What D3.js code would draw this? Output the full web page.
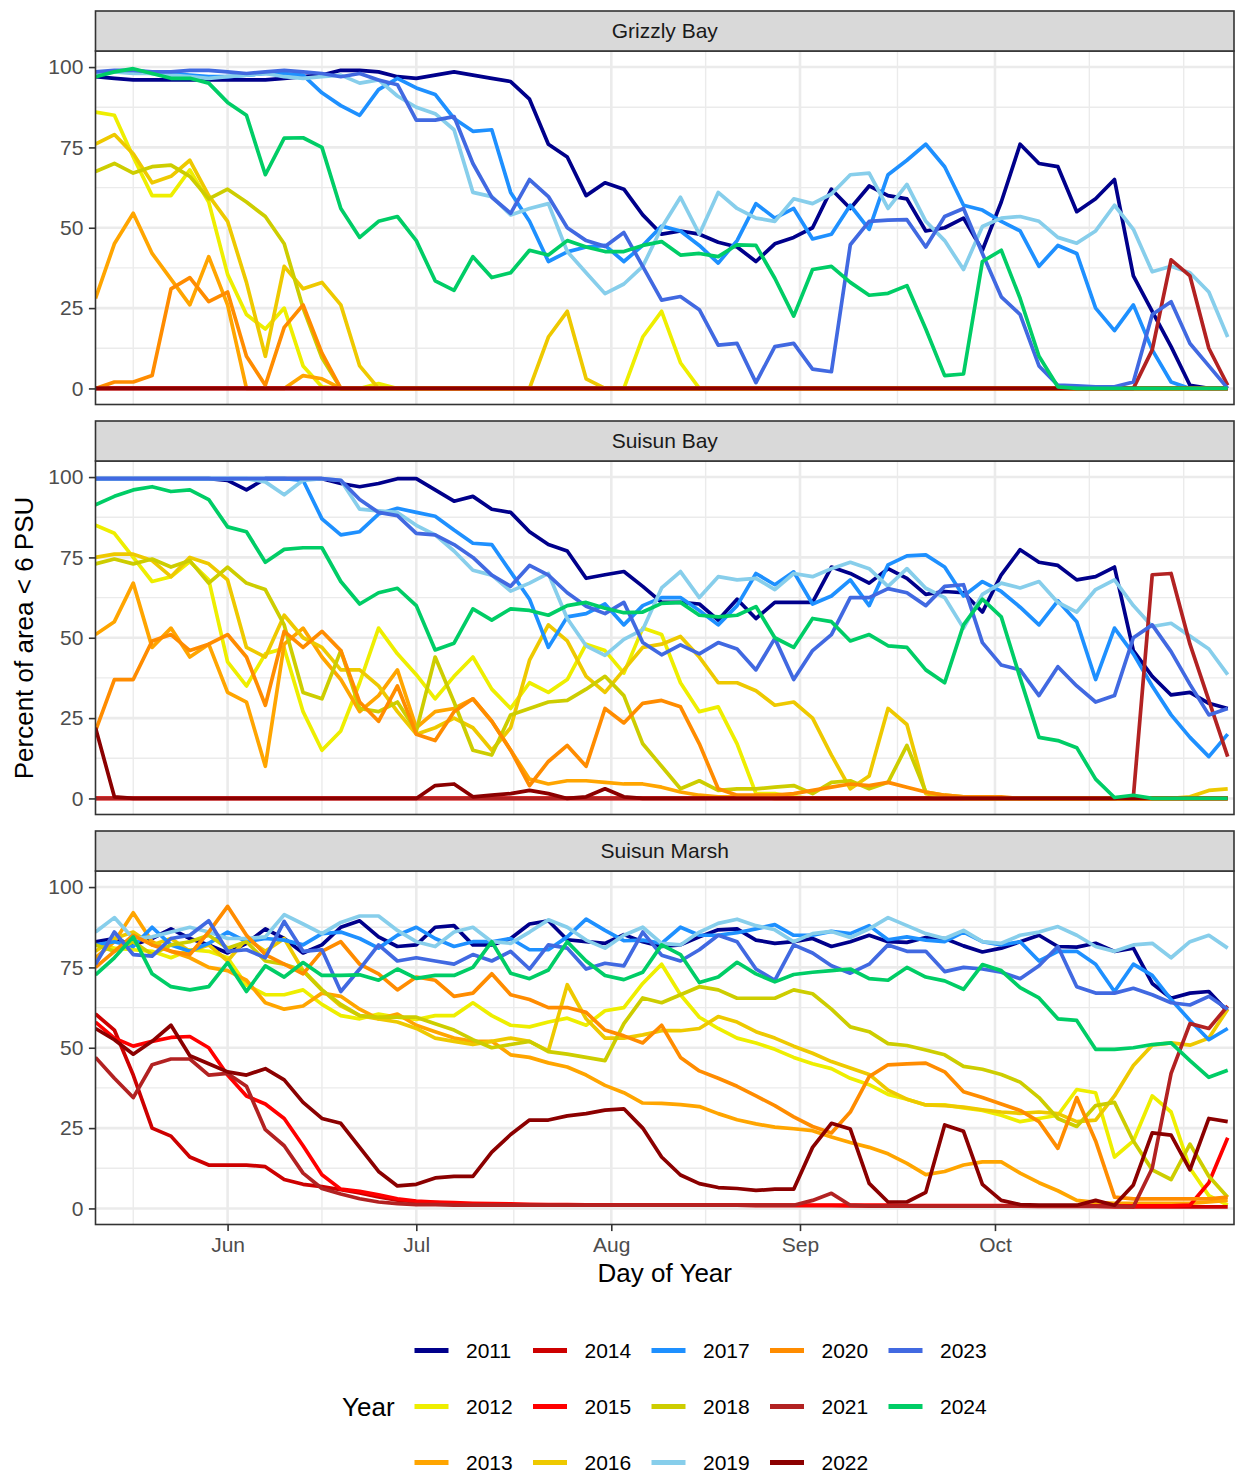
<!DOCTYPE html>
<html>
<head>
<meta charset="utf-8">
<script src="https://cdn.jsdelivr.net/npm/d3@7"></script>
<style>
  html, body { margin: 0; padding: 0; background: #ffffff; }
  svg { display: block; }
  text { font-family: "Liberation Sans", Arial, Helvetica, sans-serif; }
</style>
</head>
<body>
<svg id="chart" width="1238" height="1473"></svg>
<script>
// ---- categories -------------------------------------------------------
const years  = [2011, 2012, 2013, 2014, 2015, 2016, 2017, 2018, 2019, 2020, 2021, 2022, 2023, 2024];
const yearColors = ["#00008B", "#EEEE00", "#FFA500", "#CD0000", "#FF0000", "#EEC900", "#1E90FF",
                    "#CDCD00", "#87CEEB", "#FF8C00", "#B22222", "#8B0000", "#4169E1", "#00CD66"];
const sites = ["Grizzly Bay", "Suisun Bay", "Suisun Marsh"];

// day-of-year of the first observation and spacing between observations
const firstDay = 131;
const stepDays = 3;
const xLimits = [131, 312];

// axis ticks
const monthTicks  = [152, 182, 213, 243, 274];
const monthLabels = ["Jun", "Jul", "Aug", "Sep", "Oct"];
const pctTicks    = [0, 25, 50, 75, 100];

// ---- Grizzly Bay: percent of area < 6 PSU ------------------------------
const gb2011 = [97,96.5,96,96,96,96,96,96,96,96, 96.5,97,97.5,99,99,98.5,97,96.5,97.5,98.5, 97.5,96.5,95.5,90,76,72,60,64,62,54, 48,49,48,45.5,44,39.5,45,47,50,62, 56,63,60,59,49,50,53,43,58,76, 70,69,55,59,65,35,24,13,1,0, 0];
const gb2012 = [86,85,72,60,60,68,58,35.5,23,18.5, 25,7,0.5,0,0,1.5,0,0,0,0, 0,0,0,0,0,0,0,0,0,16, 24,8,0,0,0,0,0,0,0,0, 0,0,0,0,0,0,0,0,0,0, 0,0,0,0,0,0,0,0,0,0, 0];
const gb2013 = [28,45,54.5,42,34,26,41,26,0,0, 0,4,3,0,0,0,0,0,0,0, 0,0,0,0,0,0,0,0,0,0, 0,0,0,0,0,0,0,0,0,0, 0,0,0,0,0,0,0,0,0,0, 0,0,0,0,0,0,0,0,0,0, 0];
const gb2014 = [0,0,0,0,0,0,0,0,0,0, 0,0,0,0,0,0,0,0,0,0, 0,0,0,0,0,0,0,0,0,0, 0,0,0,0,0,0,0,0,0,0, 0,0,0,0,0,0,0,0,0,0, 0,0,0,0,0,0,0,0,0,0, 0];
const gb2015 = [0,0,0,0,0,0,0,0,0,0, 0,0,0,0,0,0,0,0,0,0, 0,0,0,0,0,0,0,0,0,0, 0,0,0,0,0,0,0,0,0,0, 0,0,0,0,0,0,0,0,0,0, 0,0,0,0,0,0,0,0,0,0, 0];
const gb2016 = [76,79,73,64,66,71,60,52,33,10, 38,31,33,26,7,0,0,0,0,0, 0,0,0,0,16,24,3,0,0,0, 0,0,0,0,0,0,0,0,0,0, 0,0,0,0,0,0,0,0,0,0, 0,0,0,0,0,0,0,0,0,0, 0];
const gb2017 = [98,98.5,98.5,98,98,97.5,97,97,97.5,98, 98,97.5,92,88,85,93,96.5,93.5,91.5,84, 80,80.5,61,52,39.5,42.5,44,44.5,39.5,44.5, 50.5,49,44.5,39,46,57.5,53,56,46.5,48, 57,49.5,66.5,71,76,69,57,55.5,52,49, 38,44.5,42,25,18,26,12,2,0,0, 0];
const gb2018 = [67.5,70,67,69,69.5,66,59,62,58,53.5, 45,25,9.5,0,0,0,0,0,0,0, 0,0,0,0,0,0,0,0,0,0, 0,0,0,0,0,0,0,0,0,0, 0,0,0,0,0,0,0,0,0,0, 0,0,0,0,0,0,0,0,0,0, 0];
const gb2019 = [98,98.5,98,98,97.5,97,96.5,97,97.5,98, 97,96.5,97,97.5,95,96,91,87.5,85.5,80.5, 61,59.7,54,56,57.5,42.6,36,29.5,32.5,38, 50,59.5,48,61,56,53,52,59,57.5,60.5, 66.5,67,56,63.5,52,46,37,50.4,53,53.5, 52,47,45.2,49,57,49.5,36.3,38,36,30, 16];
const gb2020 = [0,2,2,4,31,34.5,27,30,10,1, 19,26,11,0,0,0,0,0,0,0, 0,0,0,0,0,0,0,0,0,0, 0,0,0,0,0,0,0,0,0,0, 0,0,0,0,0,0,0,0,0,0, 0,0,0,0,0,0,0,0,0,0, 0];
const gb2021 = [0,0,0,0,0,0,0,0,0,0, 0,0,0,0,0,0,0,0,0,0, 0,0,0,0,0,0,0,0,0,0, 0,0,0,0,0,0,0,0,0,0, 0,0,0,0,0,0,0,0,0,0, 0,0,0,0,0,0,12,40,35,12.5, 1];
const gb2022 = [0,0,0,0,0,0,0,0,0,0, 0,0,0,0,0,0,0,0,0,0, 0,0,0,0,0,0,0,0,0,0, 0,0,0,0,0,0,0,0,0,0, 0,0,0,0,0,0,0,0,0,0, 0,0,0,0,0,0,0,0,0,0, 0];
const gb2023 = [98.5,99,99,98.5,98.5,99,99,98.5,98,98.5, 99,98.5,98,97,98,96,94.5,83.5,83.5,84.6, 70,59.5,54.5,65,59.7,50,46,44.2,48.5,38, 27.5,28.6,24.5,13.5,14,1.8,13,14,6,5.2, 44.7,52,52.4,52.5,44,53.5,56,42,28.5,23, 7,1,0.8,0.5,0.5,2,23,27,14,7, 0];
const gb2024 = [97,98.5,99.5,98,96.5,96.5,95,89,85,66.5, 77.9,78,75,56,47,52,53.5,46,33.5,30.5, 41,34.5,36,43,41.5,46,44,42.6,42.6,44.5, 45.7,41.5,42,41,44.7,44.5,34.3,22.5,37,38, 33,29,29.6,32,18.5,4,4.5,39.5,43,28, 10,0.5,0,0,0,0,0,0,0,0, 0];

// ---- Suisun Bay ----------------------------------------------------------
const sb2011 = [99.5,99.5,99.5,99.5,99.5,99.5,99.5,99,96,99.5, 99.5,99.5,99.5,98,97,98,99.5,99.5,96,92.5, 94,90,89,83,79,77,68.5,69.6,70.6,66, 61,61,60.5,55.5,62,56,61,61,61,72, 70,67,71.5,68.5,63.5,64.4,64,58,69.6,77.4, 73.5,72.5,68,69,72,46,38,32.2,33,29.6, 28];
const sb2012 = [85,82.5,75,67.5,69,73.7,68,42.5,35,45, 46.7,27,15,21,36,53,45,38.5,31,38, 44,34,28,36,33,37,48,46,39,53, 51,36,27,28.5,17,1.5,1.5,0.5,0,0, 0,0,0,0,0,0,0,0,0,0, 0,0,0,0,0,0,0,0,0,0, 0];
const sb2013 = [51,55,67,47,53,44,48,33,30,10, 48,53,44,37,27,32,40,22,27,28, 31,24,15,6,4.5,5.5,5.5,5,4.5,4.5, 3.5,2,1,0.5,0.5,0.5,0,0,0,0, 0,0,0,0,0,0,0,0,0,0, 0,0,0,0,0,0,0,0,0,0, 0];
const sb2014 = [0,0,0,0,0,0,0,0,0,0, 0,0,0,0,0,0,0,0,0,0, 0,0,0,0,0,0,0,0,0,0, 0,0,0,0,0,0,0,0,0,0, 0,0,0,0,0,0,0,0,0,0, 0,0,0,0,0,0,0,0,0,0, 0];
const sb2015 = [0,0,0,0,0,0,0,0,0,0, 0,0,0,0,0,0,0,0,0,0, 0,0,0,0,0,0,0,0,0,0, 0,0,0,0,0,0,0,0,0,0, 0,0,0,0,0,0,0,0,0,0, 0,0,0,0,0,0,0,0,0,0, 0];
const sb2016 = [75,76,76,74,69,75,73,68,47,44, 57,50,47,40,40,35,27,20,22,25, 22,15,22,43,54,49,38,33,40,47, 48,50.4,44,36,36,33.5,29,30,25,13.5, 3,7,28,23,1.5,0.5,0,0,0,0, 0,0,0,0,0,0,0,0,0.5,2.5, 3];
const sb2017 = [99.5,99.5,99.5,99.5,99.5,99.5,99.5,99.5,99.5,99.5, 99.5,99,87,82,83,88.5,90.3,89,87.8,83.5, 79.4,79,70.5,62,47,56.5,57.5,60.5,54,60, 62.5,62.5,58.5,54,60,70,66.5,70.5,60.5,63, 68,60,72.7,75.5,75.8,72,63,67.5,64.4,59.5, 54,61.5,55,37,53,45,35,26,19,13, 20];
const sb2018 = [73,74.5,73,74.5,72,74,67,72,67,65, 54,33,31,46,28,27,30,21,44,30, 15,13.5,26,28,30,30.5,34,38,32,17, 10,3,5.5,2.5,3,3,3.5,4,1.5,5, 5.5,3,5,16.5,2,1,0.5,0,0,0, 0,0,0,0,0,0,0,0,0,0, 0];
const sb2019 = [99.5,99.5,99.5,99.5,99.5,99.5,99.5,99.5,99.5,98.5, 94.5,99,99.5,99,90,89.5,89,85,82,77, 71,69.5,64.5,67,70,56,47.5,44.5,49.5,52.5, 65.5,70.6,62.5,69,68,68.5,65,70,69,71.5, 73.5,71.5,66,71.5,65.4,62.5,53,63.5,67,65.5, 67.5,61,58,65,68,60,53.5,54.5,50.5,46.5, 38.5];
const sb2020 = [21,37,37,49,51,46,48,51,44,29, 52,47,52,46,30,24,35,20,18,27, 31,24,15,4,11.5,16.5,10,28,23.5,29.6, 30.5,28.5,17,3,1,1,1,1.5,2.5,3.5, 4.5,4,5,3.5,2,1,0.5,0.5,0.5,0, 0,0,0,0,0,0,0,0,0,0, 0];
const sb2021 = [0,0,0,0,0,0,0,0,0,0, 0,0,0,0,0,0,0,0,0,0, 0,0,0,0,0,0,0,0,0,0, 0,0,0,0,0,0,0,0,0,0, 0,0,0,0,0,0,0,0,0,0, 0,0,0,0,0,0.5,69.6,70,48,30.5, 13];
const sb2022 = [22,0.5,0,0,0,0,0,0,0,0, 0,0,0,0,0,0,0,0,4,4.5, 0.5,1,1.5,2.5,1.5,0,0.5,3,0.5,0, 0,0,0,0,0,0,0,0,0,0, 0,0,0,0,0,0,0,0,0,0, 0,0,0,0,0,0,0,0,0,0, 0];
const sb2023 = [99.5,99.5,99.5,99.5,99.5,99.5,99.5,99.5,99.5,99.5, 99.5,99.5,99.5,99,93,89,88,82.5,82,79, 75,69.5,66,72.5,69.5,64,59.8,57.5,61,48.5, 44.7,47.8,45,48.5,46.5,40,49.8,37,46,51, 62.5,62.5,65.3,64,60,66,66.5,48.5,41.5,40, 32,41,35,30,32,50,54,45.7,35.5,26, 28];
const sb2024 = [91.4,94,96,97,95.5,96,93,84.5,83,73.5, 77.5,78,78,67.5,60.5,64,65.4,60,46.2,48.3, 59,55.5,59,58.5,57,60,61,59.2,57.8,58, 60.7,61,57,56.5,57,59.7,50,47,56,55, 49,51,47.5,47,40,36,54,62,56.5,37.5, 19,18,15.8,6,0.3,1,0,0,0,0, 0];

// ---- Suisun Marsh --------------------------------------------------------
const sm2011 = [83,84,82,84,87,84,82,79.5,82.5,87, 84,79.5,82,87.5,89.5,84.5,81.5,82,87.5,88, 82,82,84,88.5,89.5,83.6,83,82.5,85.2,83, 81.5,82,84.5,86.7,87,83.5,82.5,83,84,81.5, 83,85,83,82.8,84.3,84,81.7,79.8,81,83, 85,81.5,81.3,82.5,80,81,70,65.4,67,67.5, 61.3];
const sm2012 = [82,81,80.5,80,78,80.5,80,78,69.5,66.5, 66.5,68,63.5,60,59,60.5,59.5,58.8,60,60, 64,60,57,56.5,58,59.2,57,61.5,62.5,70, 76,66.5,59.5,56,53,51.5,49.5,47,45,43.5, 40.5,38.5,35.5,34,32.2,32.2,31.3,30.5,29,27, 28,29,37,36,16,21,35,30,12.5,4, 1];
const sm2013 = [78,83,92,83,80,78,75,74,71,64, 62,63,67,66,62,59,60.5,57,55,53, 52,52,47.8,47,45.3,44,41.5,38.3,36,32.8, 32.7,32.3,31.7,29.5,27.6,26.3,25.3,24.8,24.2,22.2, 20.5,19,17,14,10.5,11.5,13.5,14.5,14.5,11, 8,5.5,2.5,1.9,1.6,1.6,1.6,1.6,1.6,2, 2.5];
const sm2014 = [60.5,55.5,41.5,25,22.5,16,13.5,13.5,13.5,13, 9,7.5,6.8,5.8,4.8,3.6,2.6,2,1.8,1.5, 1.3,1.2,1.1,1,1,1,1,1,1,1, 1,1,1,1,1,0.9,0.9,0.9,0.9,0.9, 0.8,0.8,0.8,0.8,0.8,0.8,0.7,0.7,0.7,0.7, 0.6,0.6,0.6,0.6,0.5,0.5,0.5,0.5,0.5,0.5, 0.5];
const sm2015 = [58,53,50.5,52,53.2,53.5,50,41.5,35,32.5, 28,19.5,10.5,6,5.3,4.2,3,2.3,2,1.8, 1.6,1.5,1.4,1.3,1.2,1.2,1.1,1.1,1,1, 1,1,1,1,1,1,1,1,1,1, 1,1,1,0.9,0.9,0.9,0.9,0.9,0.9,0.8, 0.8,0.8,0.8,0.8,0.8,0.8,0.8,0.8,1,8, 22];
const sm2016 = [80,84,86,82,84,80,82,77,84,80, 84,74,68,63,60,59,58,56,53,52, 51,52,53,52,49,69.6,59,53,53,54, 55.3,55.3,56,59.7,58,55,53,50.5,48.3,45.7, 43.7,41.7,36.8,34,32.2,32,31.5,30.7,30,29.6, 30,29.5,27,27.5,35,44.5,50.8,51.5,50.8,53, 62];
const sm2017 = [82,83,81.5,87.5,82,80,82.5,86,83,84, 83.5,82,85.5,86,84,81,85,87.5,84,81.5, 83,83,84,80.5,80.5,84.5,90,86.5,83.3,83.5, 82.5,87.5,85,85,85.8,87,88.3,85,85,86.2, 85.5,88,83.6,84.5,83.5,83,86,83,82,83, 77,80,80,76,67.5,76,72.5,65,58.5,52.5, 56];
const sm2018 = [82,80,83,79,82,83,85,81,83,77, 76,74,68,63.5,60,59.5,59.5,59.5,57.5,55.5, 52.5,50,51,52,48.8,48,47,46,57.5,65.5, 64,66.5,69,68,65.4,65.4,65.4,68,66.8,62, 56.5,55,51.3,50.7,49.3,47.8,44.2,43.3,41.7,39.3, 34.5,28,25.5,32,33,21,12,9,20,10, 3.5];
const sm2019 = [86,90.5,84,84.5,86,87.5,86,84,84,84.5, 91.4,88.5,85.5,89,91,91,86.5,83,81.5,86, 87.5,83,82.5,86,89.8,87.5,83.5,81,85,87.5, 82.5,82,86,88.7,90,88,86.7,83,85.5,86.2, 84.3,87,90.5,88,85.5,84,86.5,83,82.5,85, 86,87.7,85,81.5,80,82,82.5,78,83,85, 81];
const sm2020 = [75,80,85,82,80,79,86,94,85,79, 76,73,80,83,76,73,68,72,71,66, 67,73,66.5,65,62.5,62.5,61,55.5,53.7,51.5, 57,47,42.8,40.5,38,35,32,28.5,25.5,23.5, 30,41,44.7,45,45.2,42.5,36.3,34.5,32.5,30.5, 27,18.7,34.5,21,3.5,3,3,3,3,3, 3.5];
const sm2021 = [47,40.5,34.5,44.7,46.5,46.5,41.5,42,38,24.5, 19.5,11,6.2,4.5,3,2,1.5,1.2,1.2,1, 1,1,1,1,1,1,1,1,1,1, 1,1,1,1,1,1,1,1,2.5,4.7, 1,0.7,0.7,0.7,0.7,0.7,0.7,0.7,0.7,0.7, 0.7,0.7,0.7,0.7,0.7,0.5,12.5,42,57.5,56, 63];
const sm2022 = [56,52.5,48,52,57,47.5,45,42.5,41.5,43.5, 40,33,28,26.5,19,11.5,7,7.5,9.5,10, 10,17.5,23,27.5,27.5,28.8,29.5,30.6,31,25, 16,10.4,7.7,6.5,6.2,5.6,6,6,19,26.5, 24.7,7.8,2,2,5,26,24,7.5,2.5,1.2, 1,1,1,2.5,1,7.3,23.5,22.8,12,28, 27];
const sm2023 = [76,86,79,78.5,84,85,89.5,80,80.5,78, 89.3,80,80.5,67.5,74.5,82,77,78,77,76, 79,77,80,74.5,82,81,74.5,76.3,75.5,86, 78.8,77,80.5,85,83,74.5,71,82,79.5,75.5, 73.2,76,82,80,80,73.7,75,74.5,73.5,71.5, 75.5,81.5,69,67,67,68.5,66.5,64,63.3,66, 62];
const sm2024 = [72.7,78,84.5,73,69,68,69,76.5,67.5,75.5, 72,76.5,72.5,72.5,72.7,71,74.5,71.6,72.5,72.5, 75,83,73.2,71.5,74.2,83,77,72.5,71.2,73.5, 82,79,70.3,72,76.6,73,70.5,72.8,73.5,74, 74.5,71.5,71,75,72,70.8,68.2,75.9,74,68.7, 65.5,59,58.5,49.5,49.5,50,51,51.5,46,40.8, 43];

// table built from the named arrays: one list of year series per site
const siteSeries = [
  [gb2011, gb2012, gb2013, gb2014, gb2015, gb2016, gb2017, gb2018, gb2019, gb2020, gb2021, gb2022, gb2023, gb2024],
  [sb2011, sb2012, sb2013, sb2014, sb2015, sb2016, sb2017, sb2018, sb2019, sb2020, sb2021, sb2022, sb2023, sb2024],
  [sm2011, sm2012, sm2013, sm2014, sm2015, sm2016, sm2017, sm2018, sm2019, sm2020, sm2021, sm2022, sm2023, sm2024]
];

// ---- layout ---------------------------------------------------------------
const svg = d3.select("#chart");
svg.append("rect").attr("width", 1238).attr("height", 1473).attr("fill", "#ffffff");

const panelLeft = 95.5, panelRight = 1234;
const firstStripTop = 11, panelStep = 410, stripH = 40, plotH = 353.5;

const x = d3.scaleLinear().domain(xLimits).range([panelLeft, panelRight]);

// minor breaks placed half way between majors, extended one step past the ends
const majorStep = monthTicks[1] - monthTicks[0];
const ext = [monthTicks[0] - majorStep, ...monthTicks, monthTicks[monthTicks.length - 1] + majorStep];
let minorX = [];
for (let i = 0; i < ext.length - 1; i++) minorX.push(ext[i], (ext[i] + ext[i + 1]) / 2);
minorX.push(ext[ext.length - 1]);
minorX = minorX.filter(v => v >= xLimits[0] && v <= xLimits[1] && !monthTicks.includes(v));
const minorY = [12.5, 37.5, 62.5, 87.5];

sites.forEach((site, p) => {
  const stripTop = firstStripTop + p * panelStep;
  const plotTop = stripTop + stripH;
  const plotBottom = plotTop + plotH;
  const y = d3.scaleLinear().domain([-5, 105]).range([plotBottom, plotTop]);

  const g = svg.append("g");

  // background grid
  const grid = g.append("g");
  grid.selectAll(".minx").data(minorX).join("line")
    .attr("x1", d => x(d)).attr("x2", d => x(d))
    .attr("y1", plotTop).attr("y2", plotBottom)
    .attr("stroke", "#EBEBEB").attr("stroke-width", 1.4);
  grid.selectAll(".miny").data(minorY).join("line")
    .attr("x1", panelLeft).attr("x2", panelRight)
    .attr("y1", d => y(d)).attr("y2", d => y(d))
    .attr("stroke", "#EBEBEB").attr("stroke-width", 1.4);
  grid.selectAll(".majx").data(monthTicks).join("line")
    .attr("x1", d => x(d)).attr("x2", d => x(d))
    .attr("y1", plotTop).attr("y2", plotBottom)
    .attr("stroke", "#EBEBEB").attr("stroke-width", 2.6);
  grid.selectAll(".majy").data(pctTicks).join("line")
    .attr("x1", panelLeft).attr("x2", panelRight)
    .attr("y1", d => y(d)).attr("y2", d => y(d))
    .attr("stroke", "#EBEBEB").attr("stroke-width", 2.6);

  // series, drawn in year order
  const clipId = "clip" + p;
  svg.append("clipPath").attr("id", clipId).append("rect")
    .attr("x", panelLeft).attr("y", plotTop)
    .attr("width", panelRight - panelLeft).attr("height", plotH);
  const lines = g.append("g").attr("clip-path", `url(#${clipId})`);
  const path = d3.line()
    .x((d, i) => x(firstDay + i * stepDays))
    .y(d => y(d))
    .curve(d3.curveLinear);
  siteSeries[p].forEach((vals, k) => {
    lines.append("path")
      .attr("d", path(vals))
      .attr("fill", "none")
      .attr("stroke", yearColors[k])
      .attr("stroke-width", 3.7)
      .attr("stroke-linejoin", "round")
      .attr("stroke-linecap", "butt");
  });

  // panel border
  g.append("rect")
    .attr("x", panelLeft).attr("y", plotTop)
    .attr("width", panelRight - panelLeft).attr("height", plotH)
    .attr("fill", "none").attr("stroke", "#333333").attr("stroke-width", 1.6);

  // strip
  g.append("rect")
    .attr("x", panelLeft).attr("y", stripTop)
    .attr("width", panelRight - panelLeft).attr("height", stripH)
    .attr("fill", "#D9D9D9").attr("stroke", "#333333").attr("stroke-width", 1.6);
  g.append("text")
    .attr("x", (panelLeft + panelRight) / 2).attr("y", stripTop + stripH / 2)
    .attr("dy", "0.35em").attr("text-anchor", "middle")
    .attr("font-size", 21).attr("fill", "#1A1A1A")
    .text(site);

  // y axis
  const ya = g.append("g").attr("transform", `translate(${panelLeft},0)`)
    .call(d3.axisLeft(y).tickValues(pctTicks).tickSize(6.6).tickPadding(5.5));
  ya.select(".domain").remove();
  ya.selectAll(".tick line").attr("stroke", "#333333").attr("stroke-width", 1.6);
  ya.selectAll(".tick text").attr("font-size", 21).attr("fill", "#4D4D4D")
    .attr("font-family", "'Liberation Sans', Arial, sans-serif");

  // x axis on the bottom panel only
  if (p === sites.length - 1) {
    const xa = g.append("g").attr("transform", `translate(0,${plotBottom})`)
      .call(d3.axisBottom(x).tickValues(monthTicks)
        .tickFormat((d, i) => monthLabels[i]).tickSize(6.6).tickPadding(5.5));
    xa.select(".domain").remove();
    xa.selectAll(".tick line").attr("stroke", "#333333").attr("stroke-width", 1.6);
    xa.selectAll(".tick text").attr("font-size", 21).attr("fill", "#4D4D4D")
      .attr("font-family", "'Liberation Sans', Arial, sans-serif");
  }
});

// axis titles
svg.append("text")
  .attr("x", (panelLeft + panelRight) / 2).attr("y", 1282)
  .attr("text-anchor", "middle").attr("font-size", 26).attr("fill", "#000")
  .text("Day of Year");
svg.append("text")
  .attr("transform", "translate(33,638) rotate(-90)")
  .attr("text-anchor", "middle").attr("font-size", 26).attr("fill", "#000")
  .text("Percent of area < 6 PSU");

// legend: three rows, filled column by column
const legend = svg.append("g");
const rowY = [1350.5, 1406.5, 1462.5];
const colKeyX = 414.5, colStep = 118.5, keyW = 34;
legend.append("text")
  .attr("x", 342).attr("y", rowY[1]).attr("dy", "0.35em")
  .attr("font-size", 26).attr("fill", "#000").text("Year");
years.forEach((yr, k) => {
  const c = Math.floor(k / 3), r = k % 3;
  const kx = colKeyX + c * colStep;
  legend.append("line")
    .attr("x1", kx).attr("x2", kx + keyW)
    .attr("y1", rowY[r]).attr("y2", rowY[r])
    .attr("stroke", yearColors[k]).attr("stroke-width", 5);
  legend.append("text")
    .attr("x", kx + keyW + 17.5).attr("y", rowY[r]).attr("dy", "0.35em")
    .attr("font-size", 21).attr("fill", "#000").text(yr);
});
</script>
</body>
</html>
